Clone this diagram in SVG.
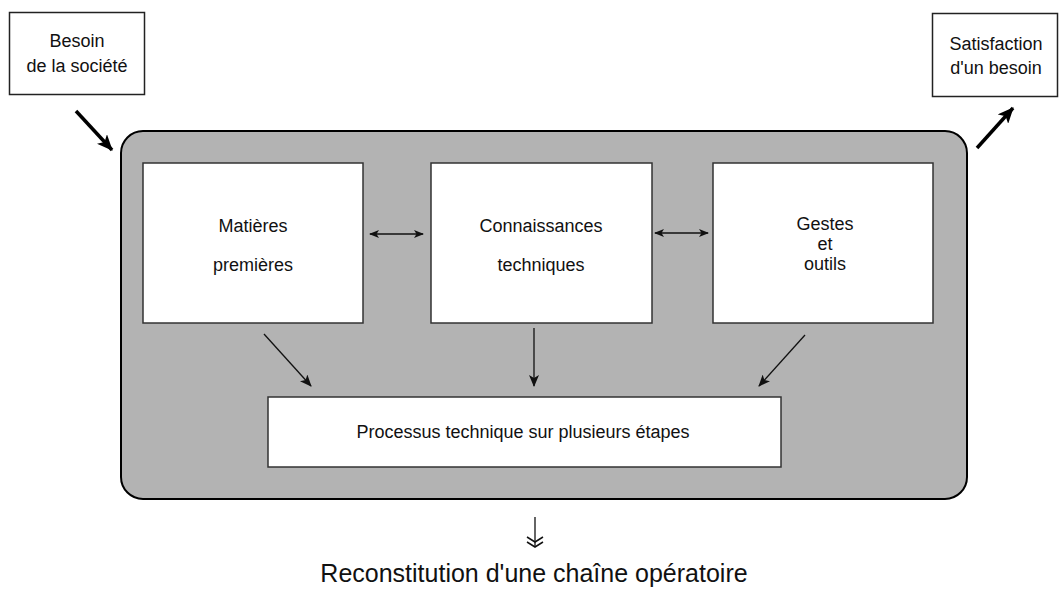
<svg xmlns="http://www.w3.org/2000/svg" width="1059" height="590" viewBox="0 0 1059 590">
<style>
text{font-family:"Liberation Sans",Arial,sans-serif;fill:#111;text-anchor:middle}
.t{font-size:18px}
.b{fill:#fff;stroke:#333;stroke-width:1.5}
.ln{stroke:#111;stroke-width:1.3;fill:none}
.thick{stroke:#000;stroke-width:3.5;fill:none}
</style>
<defs>
<marker id="ah" viewBox="0 0 12 10" refX="11" refY="5" markerWidth="12" markerHeight="10" markerUnits="userSpaceOnUse" orient="auto-start-reverse">
<path d="M0,0 L12,5 L0,10 L3,5 Z" fill="#111"/>
</marker>
<marker id="ahs" viewBox="0 0 10 8" refX="9" refY="4" markerWidth="10" markerHeight="8" markerUnits="userSpaceOnUse" orient="auto-start-reverse">
<path d="M0,0 L10,4 L0,8 L2.5,4 Z" fill="#111"/>
</marker>
<marker id="big" viewBox="0 0 16 14" refX="15" refY="7" markerWidth="16" markerHeight="14" markerUnits="userSpaceOnUse" orient="auto">
<path d="M0,0 L16,7 L0,14 L4,7 Z" fill="#000"/>
</marker>
</defs>
<g id="besoin">
<rect x="9.5" y="12.5" width="135" height="82" fill="#fff" stroke="#222" stroke-width="1.5"/>
<text class="t" x="77" y="47">Besoin</text>
<text class="t" x="77" y="72">de la société</text>
</g>
<g id="satisfaction">
<rect x="932.5" y="13.5" width="125" height="83" fill="#fff" stroke="#222" stroke-width="1.5"/>
<text class="t" x="996" y="50">Satisfaction</text>
<text class="t" x="996" y="74">d'un besoin</text>
</g>
<g id="chaine">
<rect x="121" y="131" width="846" height="368" rx="22" ry="22" fill="#b3b3b3" stroke="#000" stroke-width="2"/>
</g>
<g id="matieres">
<rect class="b" x="143" y="163" width="220" height="160"/>
<text class="t" x="253" y="232">Matières</text>
<text class="t" x="253" y="271">premières</text>
</g>
<g id="connaissances">
<rect class="b" x="431" y="163" width="221" height="160"/>
<text class="t" x="541" y="232">Connaissances</text>
<text class="t" x="541" y="271">techniques</text>
</g>
<g id="gestes">
<rect class="b" x="713" y="163" width="220" height="160"/>
<text class="t" x="825" y="230">Gestes</text>
<text class="t" x="825" y="250">et</text>
<text class="t" x="825" y="270">outils</text>
</g>
<g id="processus">
<rect class="b" x="268" y="397" width="513" height="70"/>
<text class="t" x="523" y="438">Processus technique sur plusieurs étapes</text>
</g>
<g id="resultat">
<text x="534" y="582" style="font-size:25px">Reconstitution d'une chaîne opératoire</text>
</g>
<g id="connectors">
<line class="thick" x1="76" y1="111" x2="112" y2="150" marker-end="url(#big)"/>
<line class="thick" x1="977" y1="148" x2="1013" y2="108" marker-end="url(#big)"/>
<line class="ln" x1="370" y1="234" x2="423" y2="234" marker-start="url(#ahs)" marker-end="url(#ahs)"/>
<line class="ln" x1="655" y1="233" x2="708" y2="233" marker-start="url(#ahs)" marker-end="url(#ahs)"/>
<line class="ln" x1="264" y1="334" x2="311" y2="386" marker-end="url(#ah)"/>
<line class="ln" x1="534" y1="328" x2="534" y2="386" marker-end="url(#ah)"/>
<line class="ln" x1="805" y1="335" x2="759" y2="386" marker-end="url(#ah)"/>
<line class="ln" x1="535" y1="517" x2="535" y2="547"/>
<path d="M527,537 L535,542 L543,537 M527,542 L535,547 L543,542" stroke="#111" stroke-width="1.5" fill="none"/>
</g>
</svg>
